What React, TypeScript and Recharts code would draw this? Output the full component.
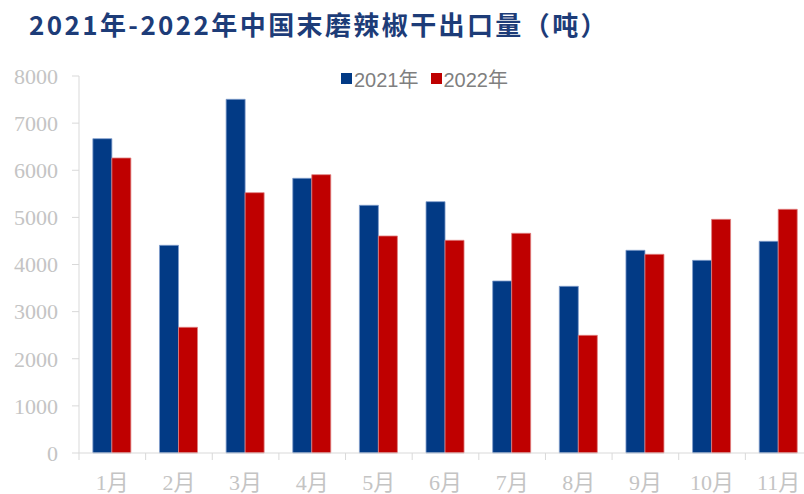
import { BarChart, Bar, XAxis, YAxis } from 'recharts';

const MONTHS = ['1月', '2月', '3月', '4月', '5月', '6月', '7月', '8月', '9月', '10月', '11月'];
const SERIES_2021 = [6670, 4407, 7505, 5829, 5256, 5333, 3650, 3537, 4301, 4088, 4492];
const SERIES_2022 = [6260, 2667, 5524, 5906, 4605, 4513, 4662, 2497, 4216, 4958, 5171];
const Y_TICKS = [0, 1000, 2000, 3000, 4000, 5000, 6000, 7000, 8000];
const NAMES = ['2021年', '2022年'];
const COLORS = ['#023a85', '#bf0000'];

const data = MONTHS.map((m, i) => ({ month: m, y2021: SERIES_2021[i], y2022: SERIES_2022[i] }));

const BAND = 733 / MONTHS.length;
const AXIS_Y = 453;

function MonthTick({ x, payload }: any) {
  return (
    <g>
      <line x1={x - BAND / 2} x2={x - BAND / 2} y1={AXIS_Y} y2={AXIS_Y + 7} stroke="#d9d9d9" />
      <text x={x} y={AXIS_Y + 29} textAnchor="middle" dominantBaseline="central"
        fill="#c4c4c4" fontSize={22} fontFamily="'Liberation Serif', 'Noto Sans CJK SC', serif">
        {payload.value}
      </text>
    </g>
  );
}

export default function App() {
  return (
    <div style={{ position: 'fixed', left: 0, top: 0, width: 804, height: 494, overflow: 'hidden', background: '#fff' }}>
      <div style={{
        position: 'absolute', left: 29, top: 6, fontSize: 26, fontWeight: 700, color: '#1d3c78',
        fontFamily: "'Noto Sans CJK SC', sans-serif", whiteSpace: 'nowrap', lineHeight: '36px',
        letterSpacing: 2.4,
      }}>
        2021年-2022年中国末磨辣椒干出口量（吨）
      </div>
      <div style={{
        position: 'absolute', left: 341, top: 64, display: 'flex', alignItems: 'center',
        fontFamily: "'Liberation Sans', 'Noto Sans CJK SC', sans-serif", fontSize: 20, color: '#7f7f7f',
      }}>
        {NAMES.map((n, i) => (
          <span key={n} style={{ display: 'flex', alignItems: 'center', marginRight: i === 0 ? 12 : 0 }}>
            <span style={{ width: 11, height: 11, background: COLORS[i], marginRight: 2 }} />
            {n}
          </span>
        ))}
      </div>
      <BarChart width={820} height={494} data={data} barGap={0} barCategoryGap="20.8%"
        margin={{ top: 76, right: 8, bottom: 0, left: 0 }}>
        <XAxis dataKey="month" height={41} axisLine={{ stroke: '#d9d9d9' }} tickLine={false}
          tick={<MonthTick />} interval={0} />
        <YAxis width={79} domain={[0, 8000]} ticks={Y_TICKS} interval={0}
          axisLine={{ stroke: '#d9d9d9' }} tickLine={{ stroke: '#d9d9d9' }} tickSize={7} tickMargin={14}
          tick={{ fill: '#c4c4c4', fontSize: 22, fontFamily: "'Liberation Serif', serif" }} />
        <Bar dataKey="y2021" name={NAMES[0]} fill={COLORS[0]} stroke="#7f9ccb" strokeWidth={0.8} isAnimationActive={false} />
        <Bar dataKey="y2022" name={NAMES[1]} fill={COLORS[1]} stroke="#e07f7f" strokeWidth={0.8} isAnimationActive={false} />
      </BarChart>
    </div>
  );
}
